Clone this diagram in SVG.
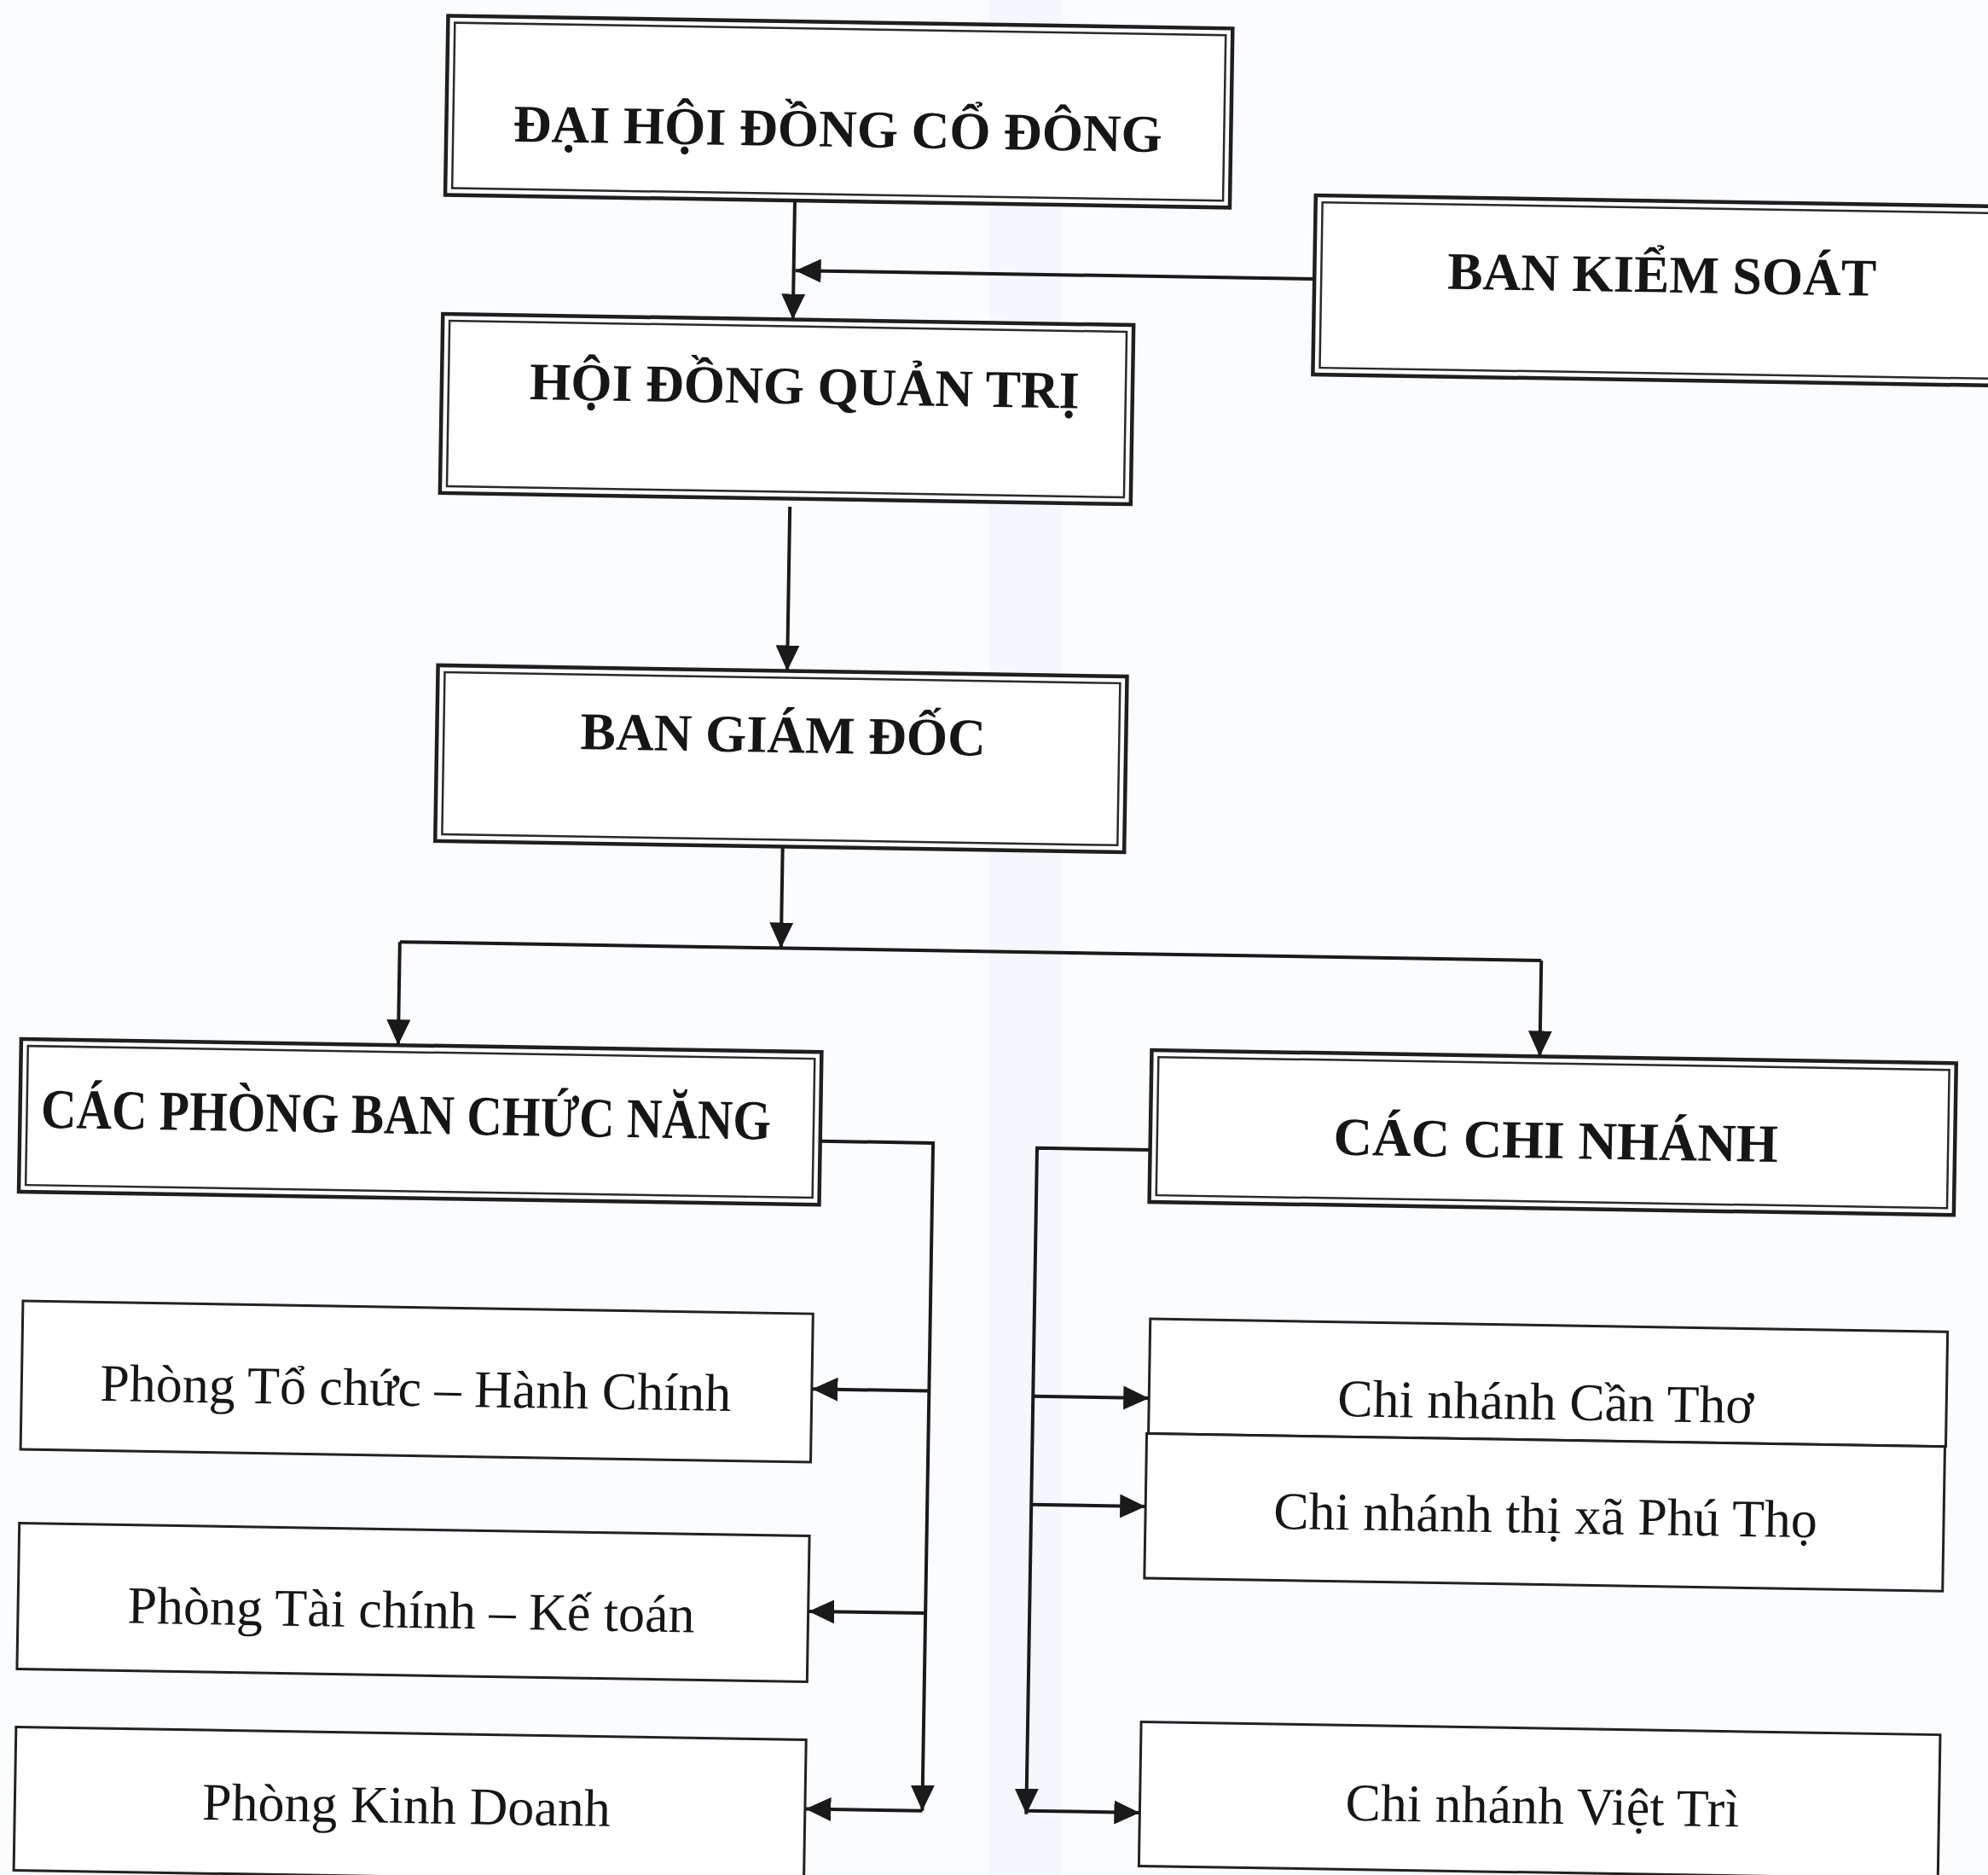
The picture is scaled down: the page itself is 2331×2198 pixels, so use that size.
<svg xmlns="http://www.w3.org/2000/svg" width="2331" height="2198" viewBox="0 0 2331 2198">
<defs>
<marker id="ah" viewBox="0 0 30 28" refX="30" refY="14" markerWidth="30" markerHeight="28" markerUnits="userSpaceOnUse" orient="auto">
<path d="M0,0 L30,14 L0,28 z" fill="#1a1a1a"/>
</marker>
</defs>
<style>
.o{fill:#fff;stroke:#1f1f1f;stroke-width:4.5}
.i{fill:none;stroke:#2a2a2a;stroke-width:2.5}
.s{fill:#fff;stroke:#222;stroke-width:3}
.c{fill:none;stroke:#1a1a1a;stroke-width:4;marker-end:url(#ah)}
.n{fill:none;stroke:#1a1a1a;stroke-width:4}
.b{font-family:"Liberation Serif","Times New Roman",serif;font-weight:bold;font-size:62px;fill:#161616;text-anchor:middle}
.r{font-family:"Liberation Serif","Times New Roman",serif;font-size:62px;fill:#161616;text-anchor:middle}
</style>
<rect x="0" y="0" width="2331" height="2198" fill="#fbfcfe"/>
<rect x="1160" y="0" width="85" height="2198" fill="#eef2f9" opacity="0.55"/>
<g transform="rotate(0.93 1165 1099)">
<g id="dhdcd">
<rect class="o" x="508" y="29" width="920" height="210"/>
<rect class="i" x="516" y="37" width="904" height="194"/>
<text class="b" x="967" y="175">ĐẠI HỘI ĐỒNG CỔ ĐÔNG</text>
</g>
<g id="bks">
<rect class="o" x="1528.6" y="223" width="900" height="210"/>
<rect class="i" x="1536.6" y="231" width="884" height="194"/>
<text class="b" x="1936" y="330">BAN KIỂM SOÁT</text>
</g>
<g id="hdqt">
<rect class="o" x="507.5" y="378.5" width="810" height="210"/>
<rect class="i" x="515.5" y="386.5" width="794" height="194"/>
<text class="b" x="933" y="477">HỘI ĐỒNG QUẢN TRỊ</text>
</g>
<g id="bgd">
<rect class="o" x="508.5" y="790.5" width="808" height="206"/>
<rect class="i" x="516.5" y="798.5" width="792" height="190"/>
<text class="b" x="914.5" y="886">BAN GIÁM ĐỐC</text>
</g>
<g id="phongban">
<rect class="o" x="27" y="1236.5" width="938.6" height="179"/>
<rect class="i" x="35" y="1244.5" width="922.6" height="163"/>
<text class="b" x="51.6" y="1340" style="text-anchor:start;font-size:66px" textLength="856" lengthAdjust="spacingAndGlyphs">CÁC PHÒNG BAN CHỨC NĂNG</text>
</g>
<g id="chinhanh">
<rect class="o" x="1352.6" y="1228" width="943.4" height="178"/>
<rect class="i" x="1360.6" y="1236" width="927.4" height="162"/>
<text class="b" x="1828" y="1347" style="font-size:63px">CÁC CHI NHÁNH</text>
</g>
<g id="tochuc">
<rect class="s" x="34" y="1543.5" width="926.5" height="174"/>
<text class="r" x="496" y="1659">Phòng Tổ chức – Hành Chính</text>
</g>
<g id="taichinh">
<rect class="s" x="34" y="1804" width="926.5" height="171"/>
<text class="r" x="495" y="1919">Phòng Tài chính – Kế toán</text>
</g>
<g id="kinhdoanh">
<rect class="s" x="34" y="2043" width="926.5" height="168"/>
<text class="r" x="493" y="2148">Phòng Kinh Doanh</text>
</g>
<g id="cantho">
<rect class="s" x="1356" y="1543" width="935" height="134.5"/>
<text class="r" x="1821" y="1653.5">Chi nhánh Cần Thơ</text>
</g>
<g id="phutho">
<rect class="s" x="1354" y="1677.5" width="936" height="169.5"/>
<text class="r" x="1823" y="1786.5">Chi nhánh thị xã Phú Thọ</text>
</g>
<g id="viettri">
<rect class="s" x="1353" y="2015.5" width="937" height="169"/>
<text class="r" x="1825" y="2127">Chi nhánh Việt Trì</text>
</g>
<g id="connectors">
<path class="c" d="M918,239 V378.5"/>
<path class="c" d="M1528.6,321 H920"/>
<path class="c" d="M918,598 V790.5"/>
<path class="c" d="M916,996.5 V1115.5"/>
<path class="n" d="M469,1115.5 H1807.6"/>
<path class="c" d="M469,1115.5 V1236.5"/>
<path class="c" d="M1807.6,1115.5 V1228"/>
<path class="c" d="M965.6,1341 H1098 V2124"/>
<path class="c" d="M1098,1631.7 H961"/>
<path class="c" d="M1098,1892.3 H961"/>
<path class="c" d="M1098,2124 H961"/>
<path class="c" d="M1352.6,1345 H1220 V2126"/>
<path class="c" d="M1220,1636 H1356"/>
<path class="c" d="M1220,1763 H1354"/>
<path class="c" d="M1220,2122 H1353"/>
</g>
</g>
</svg>
